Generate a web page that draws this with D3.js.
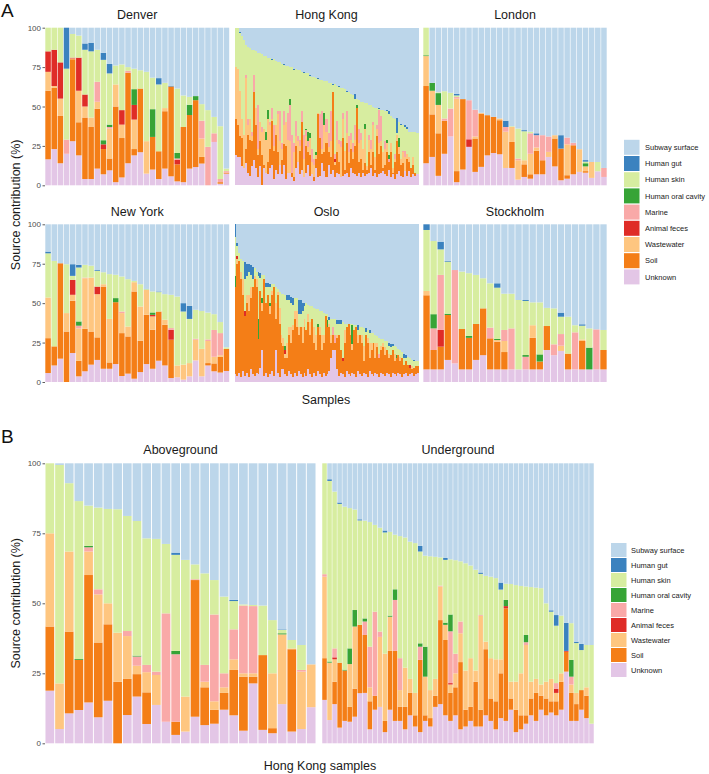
<!DOCTYPE html>
<html><head><meta charset="utf-8">
<script src="https://cdn.jsdelivr.net/npm/d3@7"></script>
<style>body{margin:0;background:#fff} text{font-family:"Liberation Sans",Arial,Helvetica,sans-serif}</style>
</head><body><svg id="c" width="709" height="774"></svg>
<script>
// Stack order (bottom -> top); "Subway surface" is the remainder to 100 %
const SOURCES = ["Unknown","Soil","Wastewater","Animal feces","Marine","Human oral cavity","Human skin","Human gut","Subway surface"];
const COLORS  = ["#e3c6e6","#f47e17","#fec680","#df2c27","#f9a9a8","#37a436","#d7eda0","#3b82bf","#bcd6ea"];
const TICKS = [0,25,50,75,100];

// each row: [Unknown, Soil, Wastewater, Animal feces, Marine, Human oral cavity, Human skin, Human gut]
const denver = [
[16.5,43.5,12,13,0,0,15,0],[23,39,1,23,0,0,14,0],[14,30,11,23,0,0,22,0],[20,0,0,0,9,0,45,26],
[28,52,0.5,0.5,0,0,15,0],[19,21,20,21,0,0,14,0],[4,39,7,7.6,0,0,28.4,4],[4,33,6,0,0,0,42,5.5],
[10.6,38,4.4,0,12.7,0,20.3,0],[7,16,0,3,0,2.6,51,4.5],[9.5,7.5,19,0,1,1.5,32.5,6],[2,48,14,0,0,0,12,0],
[5,25,8.5,9.2,0,0,29,0],[14,57.4,0,0,1.3,0,2.3,0],[19,4,18.7,9.3,0,10,13,0],[21,40.4,0,0,0,0,11.6,0],
[7.4,0,20.6,0,0,0,44,0],[10,20.7,0,0,0,17.6,20,0],[4,17.6,0,0,0,0,42.4,4],[10.6,36.4,2,0,0,0,16,0],
[5.7,57,0,0,0,0,0,0.5],[2.5,10.8,0,3,0.7,3.5,40.9,0],[2,35,0,0,0,0,20,0],[10.6,34,0,0,0,6.5,5,0],
[11.6,42.4,0,0,0,2.6,0,0],[13.8,4.2,11.7,0,11.3,0,10.5,0],[0,0,0,0,24.4,0,23.3,0],[27.5,0,0,0,5.5,0,10.4,0],
[1,1,0,0,2,0,33.5,0],[7.4,0.6,0,0,1,0,1.6,0]];

const hongKong = [
[19,23,33,0,0,0,25,0],[18,20,36,0,0,0,26,0],[18,13,29,0,0,0,36.4,0.6],[12,18,12,0,0,0,53,0],
[11,0,21,0,0,0,60,0],[14,9,45,0,2,0,19,0],[8,24,6,0,4,0,46,0],[6,23,13,0,0,0,45,0],
[12,16,3,0,3,0,52,0],[16,43,0,0,11,0,16,0],[11,27,11,0,0,0,36,0],[5,14,4,0,28,0,33,0],
[12,16,12,0,0,0,44,0],[0,19,15,0,3,0,46,0],[11,2,23,0,0,0,46,0],[8,0,21,0,0,5,48,0],
[7,8,27,0,0,6,33,0],[11,12,15,0,2,0,41,0],[13,28,1,0,7,0,30.4,0.6],[4,18,3,0,13,0,42,0],
[10,22,6,0,0,0,41,0],[7,14,24,0,2,0,31,0],[13,0,15,0,19,0,31,0],[7,9,7,0,4,0,50,0],
[13,13,12,0,9,0,29.4,0.6],[4,21,15,0,0,0,36,0],[8,0,21,0,17,0,30,0],[8,0,20,0,23,4,20,0],
[5,3,0,0,24,0,43,0],[3,2,16,0,6,0,46.4,0.6],[11,14,6,0,10,0,33,0],[15,0,13,0,3,0,42,0],
[7,15,3,0,4,0,44,0],[10,30,0,0,7,0,25,0],[5,0,12,0,15,0,39.4,0.6],[8,17,6,0,4,1,35,0],
[13,8,3,0,4,6,37,0],[6,13,11,0,0,3,36.4,0.6],[7,0,8,0,8,0,46,0],[3,2,8,0,4,0,52,0],
[11,6,2,0,0,2,47,0],[5,40,1,0,0,0,21.4,0.6],[6,24,0,0,15,0,22,0],[14,6,3,0,24,0,20,0],
[9,12,17,0,0,8,20,0],[5,22,7,0,8,0,24,0],[13,8,3,0,9,0,32,0],[7,11,10,0,19,0,18,0],
[10,49,0,0,0,0,4.4,0.6],[5,8,2,2,3,0,44,0],[8,13,8,0,12,0,22,0],[7,8,11,0,3,0,33.4,0.6],
[5,0,19,0,4,0,34,0],[6,24,12,0,4,0,16,0],[7,3,12,0,0,0,39,0],[8,19,6,0,14,0,12.4,0.6],
[5,9,7,0,10,0,28,0],[11,12,6,0,4,0,25,0],[8,9,4,0,6,0,30,0],[7,18,4,0,9,0,17,3],
[6,43,0,0,0,2,4,0],[8,7,12,0,9,0,18,0],[5,12,12,0,4,0,20,0],[8,2,13,0,0,0,30,0],
[6,8,22,0,0,3,13,0],[7,3,2,0,0,0,40,0],[8,13,8,0,3,0,19,0],[11,2,10,0,6,0,22,0],
[6,15,17,0,2,0,9.4,0.6],[8,2,8,0,0,0,31,0],[5,26,5,0,2,0,11,0],[7,13,7,0,21,0,0.4,0.6],
[8,17,3,0,16,0,4,0],[9,2,10,0,0,0,27,0],[7,6,10,0,5,0,19,0],[6,15,6,0,0,2,18,1],
[10,5,0,0,2,2,26,2],[5,16,6,0,0,0,17,0],[7,1,3,0,0,0,32,0],[4,11,2,0,3,0,22,0],
[7,21,4,0,0,0,1,10],[9,11,4,0,0,6,10,0],[6,7,4,0,0,0,21.4,0.6],[5,9,7,0,1,0,16,0],
[9,0,9,0,4,0,15,1],[6,11,3,0,0,0,16,1],[9,6,3,0,0,0,16,0],[5,6,0,0,0,0,23,0],
[7,6,5,0,0,0,16,0],[6,2,0,0,0,0,26,0],[7,0,0,0,0,0,26,0]];

const london = [
[14,49,19,0,0,0.5,17.5,0],[18,27,15,0,0,5,0,0],[6,27,18,0,0,7.5,0.5,0],[20,21,0,0,1.4,0,17.3,0],
[31,0,0,0,17.7,0,10,0],[2,7,46,0,1,0,1,1],[10,44.7,0,0,0,0,0,0],[24.4,0,0,4.8,24.8,0,0,0],
[8.5,21.2,1.3,0,17,0,0,0],[11.7,33.8,0.5,0,0,0,0,0],[19,25.5,0,0,0,0,0,0],[20.5,22.9,0,0,0,0,0,0],
[19.7,21.6,1.1,0,0,0,0,0],[11,0,23,0,3,0,0,4],[11,16.5,9.5,0,0,0,0.5,0],[3.6,0,12.3,0,1.1,0,19,0],
[5.3,8,2.6,0,0,0,18.4,0.7],[4.2,2.8,13,0,13,0,1,0],[7,15,2,0,7.8,0,0,1.2],[7,8.9,0,0,15.9,0,0,0],
[18,0,3.2,0,9.8,0,0,0],[12,17.7,2.1,0,0,0,0,0],[3.2,20.1,0,0,0,0,0,8.5],[4.2,2.2,19.6,0,4.3,0,0,0],
[7,18.4,0,0,1.6,0,0,0],[8.5,0,14.4,0,0,0,0,0],[8,1,3,0,0,2,1,1],[4.7,0,10.1,0,0,0,0,0],
[8.9,0,0,0,0,0,5.9,0],[5.3,0,0,0,5.7,0,0,0]];

const newYork = [
[5.7,22.1,25.8,0,0,0,28,1.1],[10.5,12.1,0,0,0,0,54.2,0],[14.8,60.5,0,0,0,0,0,0],[0,32,11.7,0,0,0,31,0],
[18.4,33.1,3.8,9.5,0,0,2.5,7.4],[3.6,9.9,20.5,0,1.7,2.7,34.2,1.7],[6.8,27,32,0,0.4,0,8.1,0],[11,21,34.2,0,0,0,7.6,0],
[14,14.3,27.4,4.8,0,0,10,0.5],[8.4,52.1,1.5,0,0,0,7.6,0],[8.4,4,27.6,0,0,0,28.4,0],[11.4,39.2,0,0,0,2.6,14.8,0],
[3.8,27.2,12.7,0,1,0,22.2,0],[5.3,23.6,6.3,0,0,0,30,0],[2.1,55.3,5.9,0,0,0,0.8,0],[6.3,19.9,21.7,0,0,0,14.1,0],
[11.4,31.2,15.8,0,0,0,0.5,0.1],[8.4,24.7,8.5,1,0,1.5,13.3,0],[13.5,31.2,0,0,0,0,12.3,0.4],[10.5,25.8,3.2,0,0,0,16.2,0],
[2.5,24.3,0,6.3,1.1,0,21.1,0],[3,0,7.5,0,0,0,43.7,0],[1.5,0,9.5,0,0,0,33.7,5.3],[3.6,0,8.4,0,0,0,28,8.3],
[13.7,0,13.1,0,0.6,0,18.4,0],[3.6,0,17.4,0,0,0,24,0],[10.5,1.5,14,0,1,0,17,0],[6.8,5,4.2,0,17,0,10,0],
[6,10,1,0,14,0,7,0],[7,14,0,0,0,0,1,0]];

const oslo = [
[5,55,0,0,0,7,25,8],[4,71,3,2,0,0,6,2],[6,71,0,0,0,0,5,0],[3,62,5,0,0,0,8,0],
[7,48,10,0,0,0,12,0],[4,38,0,3,0,0,20,11],[6,44,5,0,0,0,12,8],[3,42,10,0,0,0,15,5],
[8,45,7,0,0,0,8,6],[5,55,0,0,0,0,5,8],[4,61,2,0,0,0,5,0],[6,54,5,0,0,0,5,0],
[5,22,0,0,0,13,27,3],[9,49,0,0,0,0,8,3],[20,25,5,0,0,3,15,0],[4,61,0,0,0,0,3,0],
[6,44,0,0,0,0,10,3],[3,52,0,0,0,0,5,3],[5,38,5,0,0,2,10,2],[7,48,3,0,0,0,4,0],
[4,56,0,0,0,0,2,0],[20,20,10,0,0,0,10,0],[6,49,2,0,0,0,2,0],[3,34,10,0,0,0,10,0],
[8,17,5,0,0,0,26,0],[8,15,5,0,0,0,28,0],[5,10,3,2,0,3,32,0],[4,11,10,0,0,0,27,3],
[7,23,5,0,0,0,17,3],[5,20,10,0,0,0,15,4],[3,30,3,0,0,0,13,4],[6,34,5,0,0,0,8,0],
[4,31,10,0,0,0,8,0],[7,23,5,0,0,0,8,9],[5,30,0,0,0,0,8,9],[3,22,10,0,0,0,10,5],
[6,29,5,0,0,0,8,2],[4,29,0,0,0,0,17,0],[8,30,5,0,0,0,6,0],[5,25,8,0,0,0,10,0],
[3,37,0,0,0,0,8,0],[6,19,10,0,0,0,12,0],[4,16,10,0,0,0,16,0],[7,28,0,0,0,2,9,0],
[5,25,5,0,0,0,10,0],[3,17,10,0,0,0,15,0],[6,19,5,0,0,0,14,0],[4,38,0,0,0,0,1,0],
[5,30,0,0,0,4,4,0],[7,28,2,0,0,0,2,2],[15,10,5,0,0,0,10,0],[20,10,0,0,5,0,5,0],
[20,5,0,0,5,0,10,0],[8,20,2,0,0,0,7,2],[4,26,0,0,0,0,7,2],[6,14,0,0,0,0,17,2],
[5,8,0,2,0,0,23,0],[3,22,8,0,0,0,4,0],[7,28,0,0,0,0,2,0],[5,32,0,0,0,0,0,0],
[4,26,3,0,0,0,4,0],[6,14,4,0,0,12,1,0],[5,28,0,0,0,0,3,0],[3,32,0,0,0,0,1,0],
[7,18,5,0,0,0,3,3],[5,25,0,0,0,0,5,0],[4,21,5,0,0,0,5,0],[6,7,10,0,0,0,11,0],
[5,25,0,0,0,0,2,2],[3,22,3,0,0,0,5,0],[7,8,10,0,0,0,6,2],[5,15,5,0,0,0,6,0],
[4,21,0,0,0,0,6,0],[6,9,10,0,0,0,5,0],[5,17,3,0,0,0,4,0],[3,12,0,0,3,0,10,0],
[6,14,3,0,0,0,4,0],[5,17,3,0,0,0,2,0],[4,13,5,0,0,0,4,0],[6,14,0,0,0,0,6,0],
[5,10,3,0,0,0,5,2],[3,14,0,0,0,0,5,2],[6,14,0,0,0,0,3,1],[5,8,5,0,0,0,5,0],
[4,11,0,0,0,2,5,0],[6,11,0,0,0,0,4,0],[5,8,3,0,0,0,4,0],[3,12,0,0,0,0,4,0],
[5,6,0,0,0,0,4,3],[6,7,0,0,0,0,2,2],[4,7,0,0,0,0,5,0],[5,4,0,2,0,0,4,0],
[6,2,2,0,0,0,4,0],[4,5,0,0,0,0,4,1],[5,5,0,0,0,0,3,0],[6,4,0,0,0,0,3,0]];

const stockholm = [
[8,47,2.7,0,0,0,38.7,3.6],[8,12.3,0,0,13.7,9,46.4,0],[8,14.4,0,10.6,34.9,0,16.2,4.9],[14,28.5,0,0,0,0.8,33,0.5],
[11.8,0,0,0,59.2,0,0,0],[8,25.6,0,0,0,0,36.4,0],[8,20,0,0,0,1.2,39.8,0],[14,22.8,0,0,0,0,31.1,0],
[17,29.7,0,0,0,0,19.1,0],[8,19.7,0,0,6.8,0,28.1,0],[8,17.6,1,0,0,0.7,32.5,2.8],[8,11,7,0,7,0,23,0],
[8,0,0,0,26,0,22,0],[8,0,0,0,0,0,44,0],[8,0,0,0,8,1.1,34.3,0.6],[8,20,8,0,0,0,14.5,0],
[8,5,0,0,0,4.5,33,0],[20.3,15.2,0,0,0,0,11.5,0],[17,0,0,0,6.9,0,22.8,0],[19.7,0,3.3,0,7.4,0,11,2.6],
[8,10,0,0,0,0,23.4,0],[8,0,0,0,23.5,0,4.5,0],[8,18,1,0,0,0,8.7,0.9],[8,0,0,0,0,13.8,12.2,0],
[8,0,0,0,25.4,0,0,0],[8,12.3,0,0,0,0,12.7,0]];

const aboveground = [
[18.8,22.9,33.3,0,0,0,25,0],[5.1,0,16.3,0,0,0,78,0],[10.7,29.2,28.6,0,0,0,24.4,0],[11.9,17.9,0,0,0,0.3,56.4,0],
[14.6,45.5,8.4,0,1.5,0.5,14.4,0],[9.3,26.7,17.2,0,1.8,0,29.2,0],[15.2,27.3,7.5,0,0,0,33.7,0],[0,22,17.5,0,0,0,44.1,0],
[10.1,12.9,15.3,0,1.8,0,41.1,0],[16.7,8,3,0,3.3,0.3,48.1,0],[6.9,11.3,7.2,0,2.6,0,45.2,0],[13.7,0,10.7,0,1.2,0,47.4,0],
[7.7,0,0,0,38.7,0,24.8,0],[3,4.7,0,0,24.1,1.2,34.3,0.8],[4.2,0,12.5,0,0,0,48.8,0],[9.5,48.8,0,0,0.3,0,5.3,0],
[6.5,13.5,2,0,6,0,32.7,0],[7,5,3,0,31,0,12.3,0],[12,6,2,0,5,0,27.4,0],[10,16.2,3.8,0,10.7,0,10.1,0.4],
[4.5,19.3,1.2,0,24.2,0,0.4,0],[21.4,2.4,1.2,0,24,0,0.4,0],[4.8,26.7,0,0,0,0,17.7,0],[3.6,1.8,19.6,0,0,0,19,0],
[14,0,24.9,0,0,0.4,1.2,0.2],[4.2,29.4,0.3,0,0,0,3,0],[5.1,0,20.5,0,0.6,0,8.9,0],[12.9,0,15.3,0,0,0,0,0]];

const underground = [
[15.5,14.9,29.1,0,0.9,0,39.6,0],[8.3,0,20.5,0,0,0.4,64.5,0.6],[14,8,8,0.7,3.2,0,56,0],[5.6,23.2,0,0,0,0,56.7,0.5],
[8,18,0,0,0,0.3,58.2,0],[7.7,5.3,15.3,0,0,5.6,50.1,0],[9.5,10,22.2,0,0,5.9,35.9,0],[17.9,24.4,0,0,0,0,37.3,0.4],
[18,20.7,0,0,4.8,1.1,34.9,0],[5,10,5,0,14.5,0,44.5,0],[12,5,0,0,30,0,31,0],[13,0,25,0,1.9,0,37.1,0],
[4,4,24,0,0,0,43.3,0.7],[12,21,12.2,0,0,0.4,29.9,0],[8,25,0,0,18.2,3.8,19.5,0],[8,5,6,0,11.4,0,43.6,0],
[5,8,14,0,0,0,46.5,0],[10,8,5,0,0,0,49,0],[6,4,8,0,0,0,53.5,0],[4,25.8,0,0,4.7,1.2,32.8,2],
[8,2,13.8,0,0,10.7,32.5,0],[6,3,10,0,0,0,47.8,0],[13,4,6,0,0,0,43.6,0],[14,30,12,0,0.3,0,10.1,0],
[10,26.9,5.4,0,0,0.8,22.4,0.7],[8,10,3,0.5,18.5,6,19.7,0],[10,10,5,0,7,0,33.4,0],[5,24,10.3,0,4.2,0,21.5,0],
[6,6,14,0,0,0,38.3,0],[8,5,17.4,0,0,0,33.1,0],[6,16,4,0,0,0,36,0],[6,6,33.5,0,0.3,0,14.7,0.5],
[10,23.6,2.7,0,0,0,23.5,0],[8,8,14.4,0,0,0,29.1,0],[5,10,15,0,0,0,29,0],[9,16,5,0,0,0,24.9,2.5],
[8,40.2,0,0.8,0,2.2,5.8,0],[12,4,6,0,0,0,34.9,0],[4,8,10,0,0,0,34.5,0],[5,5,15,0,0,0,31.2,0],
[7,3,25.1,0,1,2.6,17.3,0],[10,6,6,0,0,0,33.8,0],[8,10,5,0,0,0,32.6,0],[12,5,4,0,0,0,34.4,0],
[10,6,6,0,0,0,28,0],[11,4,8,0,0,0,24,0.5],[10,5,3,1.5,2,0,20.5,3.8],[12,10,3,0,0,0,20.6,0],
[25.6,7.1,0,0.3,0,0,0,10],[8,10,3,0,2.8,6,13.1,0],[8,6,4,0,0,0,17.8,0.5],[12,7,0,0,0,0,14.3,2.2],
[9,8,3,0,0,0,15.1,0],[7,0,0,0,0,0,28.1,0]];

const svg = d3.select("#c");

function facet(rows, x0, x1, y0, y100, title, titleY, withAxis, pad){
  const g = svg.append("g");
  if (pad === 0) g.attr("shape-rendering", "crispEdges");
  const x = d3.scaleBand().domain(d3.range(rows.length)).range([x0, x1]).paddingInner(pad).paddingOuter(pad/2);
  const y = d3.scaleLinear().domain([0,100]).range([y0, y100]);
  const data = rows.map(r => {
    const o = {};
    r.forEach((v,i) => o[SOURCES[i]] = v);
    o[SOURCES[8]] = Math.max(0, 100 - d3.sum(r));
    return o;
  });
  const series = d3.stack().keys(SOURCES)(data);
  g.selectAll("g.s").data(series).join("g").attr("class","s")
    .attr("fill", (d,i) => COLORS[i])
    .selectAll("rect").data(d => d.map((s,j) => ({s, j}))).join("rect")
    .attr("x", d => x(d.j)).attr("width", x.bandwidth())
    .attr("y", d => y(d.s[1])).attr("height", d => Math.max(0, y(d.s[0]) - y(d.s[1])));
  svg.append("text").attr("x", (x0+x1)/2).attr("y", titleY).attr("text-anchor","middle")
    .attr("font-size", 12.5).attr("fill","#1a1a1a").text(title);
  if (withAxis){
    const ax = svg.append("g").attr("transform", `translate(${x0},0)`)
      .call(d3.axisLeft(y).tickValues(TICKS).tickSize(2.5).tickPadding(1.5));
    ax.select(".domain").remove();
    ax.selectAll("line").attr("stroke","#333").attr("stroke-width",0.8);
    ax.selectAll("text").attr("font-size", 8).attr("fill","#4d4d4d");
  }
}

// Panel A
const colsA = [[45,229.5],[234.5,418.5],[423,607]];
const r1 = [185.3, 27.7], r2 = [382, 224.3];
facet(denver,   ...colsA[0], ...r1, "Denver", 19.3, true, 0.1);
facet(hongKong, ...colsA[1], ...r1, "Hong Kong", 19.3, false, 0);
facet(london,   ...colsA[2], ...r1, "London", 19.3, false, 0.1);
facet(newYork,  ...colsA[0], ...r2, "New York", 215.7, true, 0.1);
facet(oslo,     ...colsA[1], ...r2, "Oslo", 215.7, false, 0);
facet(stockholm,...colsA[2], ...r2, "Stockholm", 215.7, false, 0.1);

// Panel B
facet(aboveground, 45, 316, 743.3, 463.3, "Aboveground", 454, true, 0.1);
facet(underground, 322, 594, 743.3, 463.3, "Underground", 454, false, 0.1);

// Axis titles and panel letters
function ytitle(cy, txt){
  svg.append("text").attr("transform", `translate(20,${cy}) rotate(-90)`)
    .attr("text-anchor","middle").attr("font-size",12.5).attr("fill","#1a1a1a").text(txt);
}
ytitle((27.7+382)/2, "Source contribution (%)");
ytitle((463.3+743.3)/2, "Source contribution (%)");
svg.append("text").attr("x",326).attr("y",404).attr("text-anchor","middle").attr("font-size",12.5).attr("fill","#1a1a1a").text("Samples");
svg.append("text").attr("x",320).attr("y",770).attr("text-anchor","middle").attr("font-size",12.5).attr("fill","#1a1a1a").text("Hong Kong samples");
svg.append("text").attr("x",1).attr("y",17).attr("font-size",19).attr("fill","#111").text("A");
svg.append("text").attr("x",1).attr("y",443).attr("font-size",19).attr("fill","#111").text("B");

// Legends
function legend(kx, textX, cy0, step, kh){
  const order = SOURCES.slice().reverse();
  order.forEach((s,k) => {
    const cy = cy0 + k*step;
    svg.append("rect").attr("x",kx).attr("y",cy-kh/2).attr("width",15.5).attr("height",kh)
      .attr("fill", COLORS[SOURCES.indexOf(s)]);
    svg.append("text").attr("x",textX).attr("y",cy+2.7).attr("font-size",7.5).attr("fill","#1a1a1a").text(s);
  });
}
legend(624, 645, 147.3, 16.2, 15);
legend(611, 631, 550, 15, 14);
</script></body></html>
